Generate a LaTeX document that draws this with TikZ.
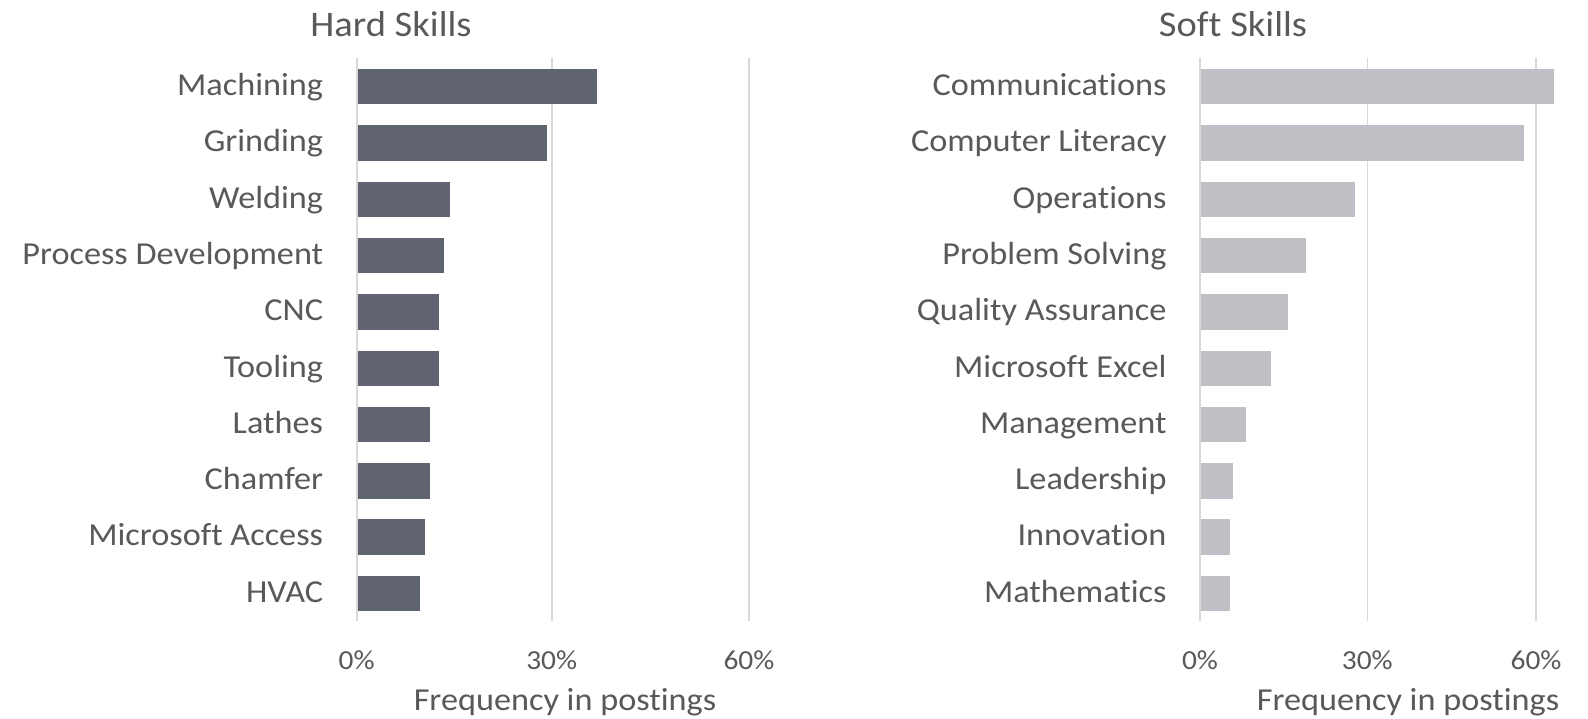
\documentclass[tikz,border=0pt]{standalone}
\usepackage{fontspec}
\setmainfont{Carlito}[FakeStretch=1.07,Ligatures={NoCommon}]
\definecolor{txt}{HTML}{595959}
\definecolor{grid}{HTML}{D9D9D9}
\definecolor{hardbar}{HTML}{606370}
\definecolor{softbar}{HTML}{BEC0C6}
\begin{document}
\begin{tikzpicture}[x=1pt,y=-1pt,
  gridline/.style={draw=grid,line width=1.6pt},
  catlabel/.style={anchor=base east,inner sep=0pt,text=txt,font=\fontsize{32}{38}\selectfont},
  ticklabel/.style={anchor=base,inner sep=0pt,text=txt,font=\fontsize{27.5}{33}\selectfont},
  axistitle/.style={anchor=base,inner sep=0pt,text=txt,font=\fontsize{32}{38}\selectfont},
  charttitle/.style={anchor=base,inner sep=0pt,text=txt,font=\fontsize{36}{42}\selectfont}]
\useasboundingbox[fill=white] (0,0) rectangle (1588,718);
% titles
\node[charttitle] (hardtitle) at (391,36.7) {Hard Skills};
\node[charttitle] (softtitle) at (1233,36.7) {Soft Skills};
% grid lines
\foreach \gx/\gl [count=\i] in {356.7/0\%,551.7/30\%,749/60\%}{
  \draw[gridline] (\gx,58) -- (\gx,621);
  \node[ticklabel] (htick\i) at (\gx,669) {\gl};
}
\foreach \gx/\gl [count=\i] in {1200/0\%,1367.3/30\%,1536/60\%}{
  \draw[gridline] (\gx,58) -- (\gx,621);
  \node[ticklabel] (stick\i) at (\gx,669) {\gl};
}
% hard skills bars
\foreach \lab/\val [count=\i from 0] in {Machining/596.5,Grinding/547.3,Welding/450,Process Development/444,CNC/439.3,Tooling/439.3,Lathes/429.7,Chamfer/429.7,Microsoft Access/425,HVAC/420.3}{
  \pgfmathsetmacro{\yc}{86.7+56.3*\i}
  \fill[hardbar] (357.5,\yc-17.7) rectangle (\val,\yc+17.7);
  \node[catlabel] (hlab\i) at (323.3,\yc+8.8) {\lab};
}
% soft skills bars
\foreach \lab/\val [count=\i from 0] in {Communications/1553.7,Computer Literacy/1524,Operations/1355.3,Problem Solving/1305.7,Quality Assurance/1287.7,Microsoft Excel/1271,Management/1246.3,Leadership/1233.3,Innovation/1229.7,Mathematics/1229.7}{
  \pgfmathsetmacro{\yc}{86.7+56.3*\i}
  \fill[softbar] (1201,\yc-17.7) rectangle (\val,\yc+17.7);
  \node[catlabel] (slab\i) at (1166.7,\yc+8.8) {\lab};
}
% axis titles
\node[axistitle] (haxis) at (565,710) {Frequency in postings};
\node[axistitle] (saxis) at (1408,710) {Frequency in postings};
\end{tikzpicture}
\end{document}
